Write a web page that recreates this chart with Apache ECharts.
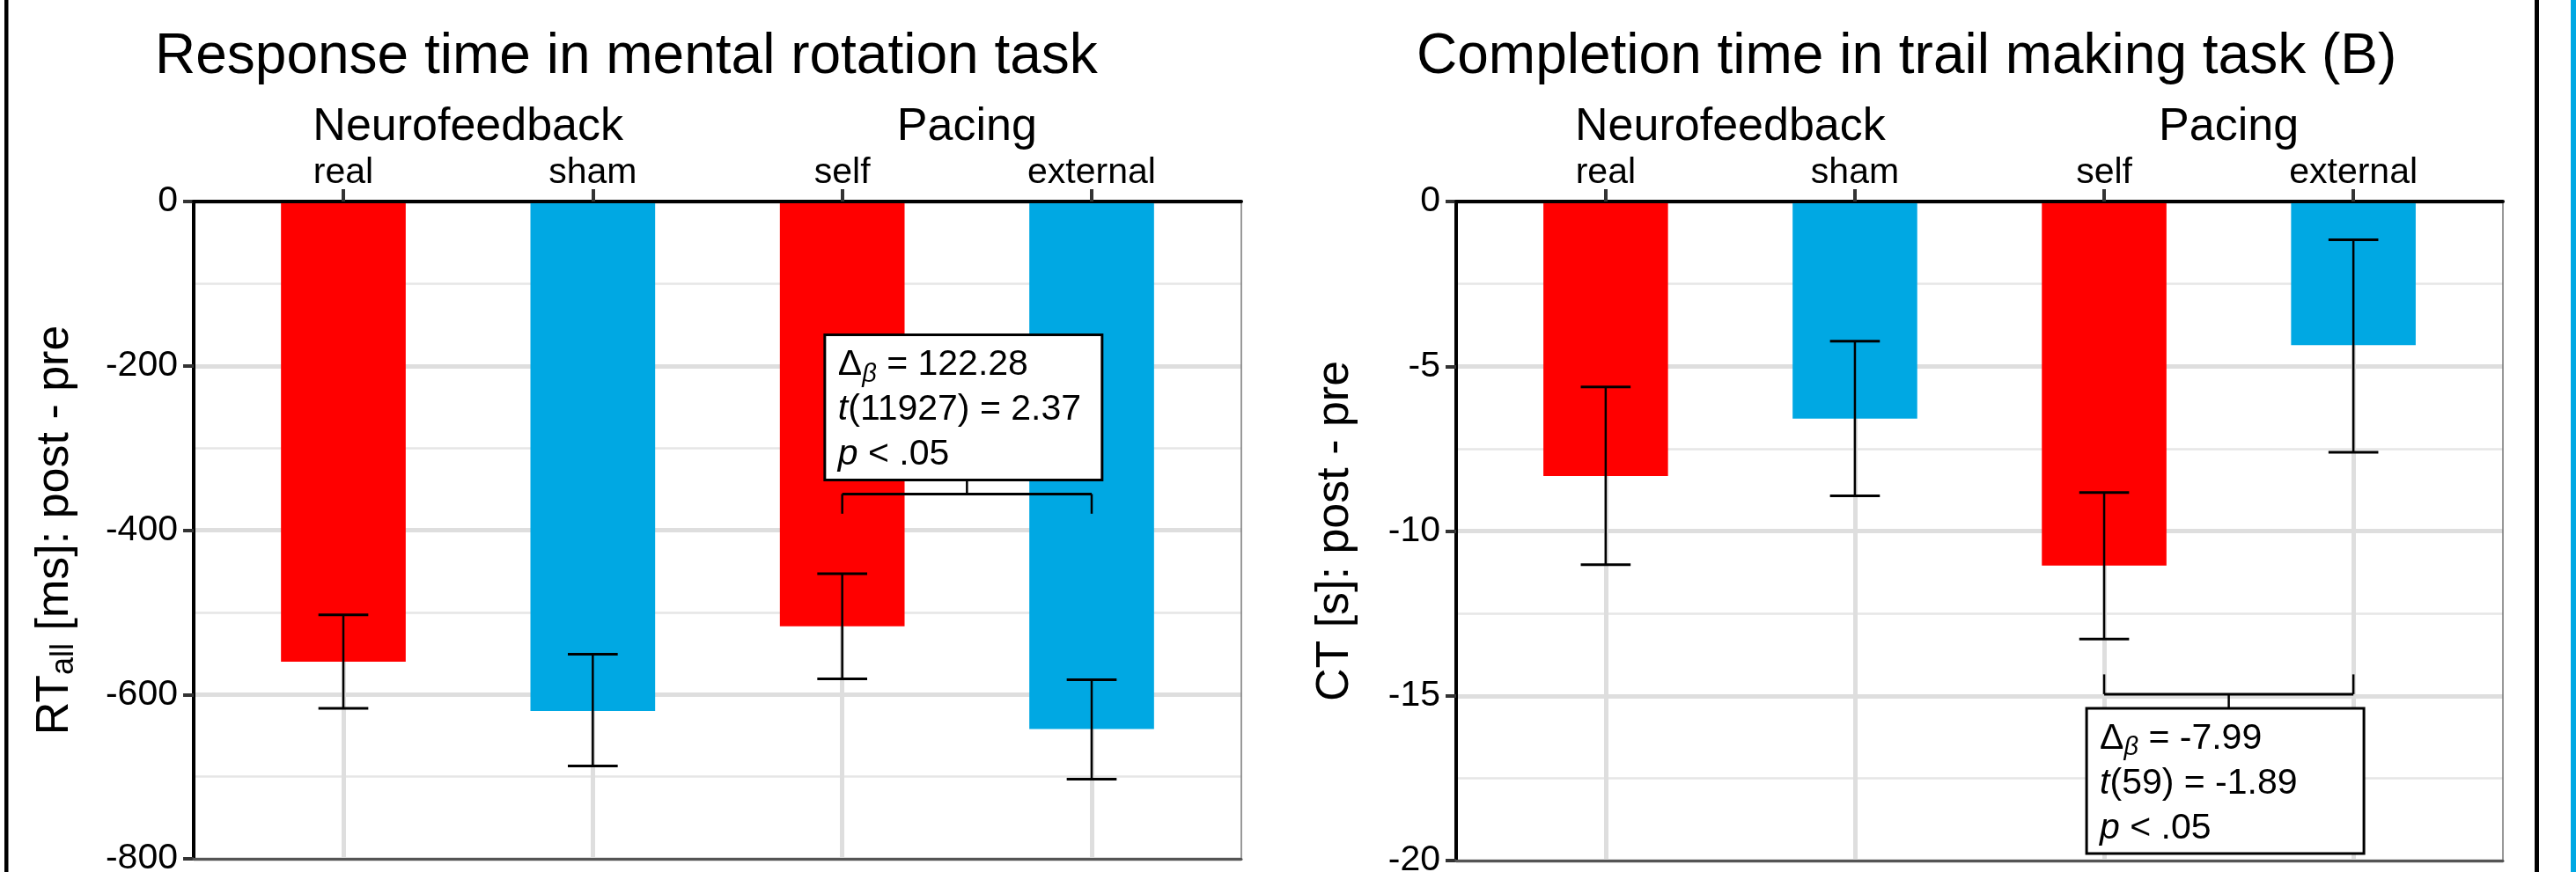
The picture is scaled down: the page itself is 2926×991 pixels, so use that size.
<!DOCTYPE html>
<html>
<head>
<meta charset="utf-8">
<script src="https://cdn.jsdelivr.net/npm/echarts@6/dist/echarts.min.js"></script>
<style>html,body{margin:0;padding:0;background:#fff}#c{width:2926px;height:991px}</style>
</head>
<body>
<div id="c"></div>
<script>
// ---------------- data ----------------
const categories = ['real', 'sham', 'self', 'external'];
const categoryPos = [1, 2, 3, 4];
const groupLabels = ['Neurofeedback', 'Pacing'];
const groupMembers = [[1, 2], [3, 4]];
const barColors = ['#FF0000', '#00A8E3', '#FF0000', '#00A8E3'];

const rtTitle = 'Response time in mental rotation task';
const rtMean = [-560, -620, -517, -642];
const rtLow = [-617, -687, -581, -703];
const rtHigh = [-503, -551, -453, -582];
const rtStatPair = [3, 4];
const rtStatY = [-356, -380];          // bracket line, leg ends
const rtStatText = ['122.28', '(11927) = 2.37', ' < .05'];

const ctTitle = 'Completion time in trail making task (B)';
const ctMean = [-8.33, -6.59, -11.05, -4.36];
const ctLow = [-11.02, -8.93, -13.28, -7.61];
const ctHigh = [-5.63, -4.24, -8.83, -1.16];
const ctStatPair = [3, 4];
const ctStatY = [-14.95, -14.35];
const ctStatText = ['-7.99', '(59) = -1.89', ' < .05'];

// ---------------- style ----------------
const FONT = "'Liberation Sans', Arial, Helvetica, sans-serif";
const BAR_W = 0.5, CAP_W = 0.2;
const BOX_W = 315, BOX_H = 165, STEM = 16;
const groupCenters = groupMembers.map(m => (m[0] + m[m.length - 1]) / 2);

function barRender(params, api) {
  const x = api.value(0), v = api.value(1);
  const p0 = api.coord([x, 0]), p1 = api.coord([x, v]);
  const w = api.size([BAR_W, 0])[0];
  return {type: 'rect', shape: {x: p0[0] - w / 2, y: p0[1], width: w, height: p1[1] - p0[1]},
    style: {fill: barColors[params.dataIndex]}};
}
function errRender(params, api) {
  const x = api.value(0);
  const lo = api.coord([x, api.value(1)]), hi = api.coord([x, api.value(2)]);
  const cw = api.size([CAP_W, 0])[0];
  const st = {stroke: '#000', lineWidth: 3};
  return {type: 'group', children: [
    {type: 'line', shape: {x1: lo[0], y1: lo[1], x2: hi[0], y2: hi[1]}, style: {stroke: '#000', lineWidth: 2.5}},
    {type: 'line', shape: {x1: lo[0] - cw / 2, y1: lo[1], x2: lo[0] + cw / 2, y2: lo[1]}, style: st},
    {type: 'line', shape: {x1: hi[0] - cw / 2, y1: hi[1], x2: hi[0] + cw / 2, y2: hi[1]}, style: st}
  ]};
}
function statRender(texts) {
  return function (params, api) {
    const a = api.coord([api.value(0), api.value(2)]);
    const b = api.coord([api.value(1), api.value(2)]);
    const leg = api.coord([api.value(0), api.value(3)]);
    const cx = (a[0] + b[0]) / 2;
    const above = leg[1] > a[1];   // legs point down -> box above
    const stemEnd = above ? a[1] - STEM : a[1] + STEM;
    const boxTop = above ? stemEnd - BOX_H : stemEnd;
    const boxLeft = cx - BOX_W / 2 - 4;
    const txt = '{n|Δ}{b|β}{n| = ' + texts[0] + '}\n{i|t}{n|' + texts[1] + '}\n{i|p}{n|' + texts[2] + '}';
    return {type: 'group', children: [
      {type: 'line', shape: {x1: a[0], y1: a[1], x2: b[0], y2: b[1]}, style: {stroke: '#000', lineWidth: 3}},
      {type: 'line', shape: {x1: a[0], y1: a[1], x2: a[0], y2: leg[1]}, style: {stroke: '#000', lineWidth: 2.5}},
      {type: 'line', shape: {x1: b[0], y1: b[1], x2: b[0], y2: leg[1]}, style: {stroke: '#000', lineWidth: 2.5}},
      {type: 'line', shape: {x1: cx, y1: a[1], x2: cx, y2: stemEnd}, style: {stroke: '#000', lineWidth: 2.5}},
      {type: 'rect', shape: {x: boxLeft, y: boxTop, width: BOX_W, height: BOX_H},
        style: {fill: '#fff', stroke: '#000', lineWidth: 3}},
      {type: 'text', style: {
        text: txt, x: boxLeft + 15, y: boxTop + 9, align: 'left', verticalAlign: 'top',
        fill: '#000', fontFamily: FONT, fontSize: 41,
        rich: {
          n: {fontSize: 41, fontFamily: FONT, lineHeight: 51, fill: '#000'},
          i: {fontSize: 41, fontFamily: FONT, fontStyle: 'italic', lineHeight: 51, fill: '#000'},
          b: {fontSize: 29, fontFamily: FONT, fontStyle: 'italic', lineHeight: 25, verticalAlign: 'bottom', fill: '#000'}
        }
      }}
    ]};
  };
}

const gridColor = '#DEDEDE', minorColor = '#E6E6E6';
function xAxes(g) {
  return [
    { // category labels + vertical grid lines
      type: 'value', gridIndex: g, position: 'top', min: 0.4, max: 4.6, z: 0,
      axisLine: {show: false},
      axisTick: {show: false, customValues: categoryPos},
      axisLabel: {show: true, customValues: categoryPos, margin: 12, hideOverlap: false,
        formatter: v => categories[categoryPos.indexOf(v)],
        fontSize: 41, fontFamily: FONT, color: '#000'},
      splitLine: {show: true, lineStyle: {color: gridColor, width: 5}}
    },
    { // black top axis line + ticks + group labels
      type: 'value', gridIndex: g, position: 'top', min: 0.4, max: 4.6, z: 10,
      axisLine: {show: true, onZero: false, lineStyle: {color: '#000', width: 4}},
      axisTick: {show: true, customValues: categoryPos, length: 14, lineStyle: {color: '#333', width: 4}},
      axisLabel: {show: true, customValues: groupCenters, margin: 58, hideOverlap: false,
        formatter: v => groupLabels[groupCenters.indexOf(v)],
        fontSize: 52, fontFamily: FONT, color: '#000'},
      splitLine: {show: false}
    },
    { // bottom border
      type: 'value', gridIndex: g, position: 'bottom', min: 0.4, max: 4.6, z: 10,
      axisLine: {show: true, onZero: false, lineStyle: {color: '#555', width: 3}},
      axisTick: {show: false}, axisLabel: {show: false}, splitLine: {show: false}
    }
  ];
}
function yAxes(g, min, interval, nameRich, gap) {
  return [
    {
      type: 'value', gridIndex: g, position: 'left', min: min, max: 0, interval: interval,
      axisLine: {show: true, onZero: false, lineStyle: {color: '#000', width: 4}},
      axisTick: {show: true, length: 12, lineStyle: {color: '#333', width: 4}},
      axisLabel: {show: true, margin: 18, fontSize: 41, fontFamily: FONT, color: '#000',
        showMinLabel: true, showMaxLabel: true, hideOverlap: false},
      splitLine: {show: true, lineStyle: {color: gridColor, width: 5}},
      minorTick: {show: false, splitNumber: 2},
      minorSplitLine: {show: true, lineStyle: {color: minorColor, width: 2.5}},
      name: nameRich, nameLocation: 'middle', nameRotate: 90, nameGap: gap, nameMoveOverlap: false,
      nameTextStyle: {
        fontFamily: FONT, fontSize: 52, color: '#000',
        rich: {
          m: {fontSize: 52, fontFamily: FONT, lineHeight: 56, color: '#000'},
          s: {fontSize: 36, fontFamily: FONT, lineHeight: 35, verticalAlign: 'bottom', color: '#000'}
        }
      }
    },
    {
      type: 'value', gridIndex: g, position: 'right', min: min, max: 0, interval: interval,
      axisLine: {show: true, onZero: false, lineStyle: {color: '#777', width: 1.5}},
      axisTick: {show: false}, axisLabel: {show: false}, splitLine: {show: false}
    }
  ];
}
function seriesFor(g, mean, low, high, statPair, statY, statText) {
  const xi = g * 3, yi = g * 2;
  return [
    {type: 'custom', xAxisIndex: xi, yAxisIndex: yi, z: 2, renderItem: barRender,
      data: categoryPos.map((p, i) => [p, mean[i]])},
    {type: 'custom', xAxisIndex: xi, yAxisIndex: yi, z: 3, renderItem: errRender,
      data: categoryPos.map((p, i) => [p, low[i], high[i]])},
    {type: 'custom', xAxisIndex: xi, yAxisIndex: yi, z: 4, renderItem: statRender(statText),
      data: [[statPair[0], statPair[1], statY[0], statY[1]]]}
  ];
}

const chart = echarts.init(document.getElementById('c'), null, {renderer: 'canvas'});
chart.setOption({
  backgroundColor: '#fff',
  animation: false,
  title: [
    {text: rtTitle, left: 176, top: 33, padding: 0,
      textStyle: {fontSize: 64, fontWeight: 'normal', fontFamily: FONT, color: '#000'}},
    {text: ctTitle, left: 1609, top: 33, padding: 0,
      textStyle: {fontSize: 64, fontWeight: 'normal', fontFamily: FONT, color: '#000'}}
  ],
  grid: [
    {left: 220, top: 229, width: 1190, height: 747, containLabel: false, outerBoundsMode: 'none'},
    {left: 1654, top: 229, width: 1189, height: 749, containLabel: false, outerBoundsMode: 'none'}
  ],
  xAxis: [...xAxes(0), ...xAxes(1)],
  yAxis: [
    ...yAxes(0, -800, 200, '{m|RT}{s|all}{m| [ms]: post - pre}', 129),
    ...yAxes(1, -20, 5, '{m|CT [s]: post - pre}', 109)
  ],
  series: [
    ...seriesFor(0, rtMean, rtLow, rtHigh, rtStatPair, rtStatY, rtStatText),
    ...seriesFor(1, ctMean, ctLow, ctHigh, ctStatPair, ctStatY, ctStatText)
  ],
  graphic: [
    {type: 'rect', shape: {x: 5, y: 0, width: 4.5, height: 991}, style: {fill: '#000'}},
    {type: 'rect', shape: {x: 2879, y: 0, width: 5, height: 991}, style: {fill: '#000'}},
    {type: 'rect', shape: {x: 2920, y: 0, width: 6, height: 991}, style: {fill: '#00A8E3'}}
  ]
});
</script>
</body>
</html>
